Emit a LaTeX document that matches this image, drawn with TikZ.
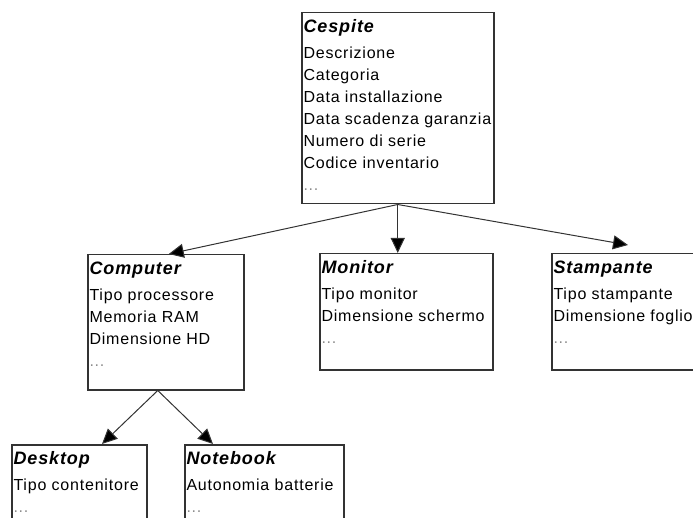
\documentclass[tikz,border=0pt]{standalone}
\usepackage{fontspec}
\setmainfont{Liberation Sans}[LetterSpace=5]
\usetikzlibrary{arrows.meta}

\definecolor{linegray}{gray}{0.2}
\definecolor{dotgray}{gray}{0.55}

\newcommand{\more}{{\color{dotgray}...}}
\newcommand{\classname}[1]{{\fontsize{18}{22}\selectfont\bfseries\itshape #1}}

\begin{document}
\begin{tikzpicture}[
		x=1pt,
		y=-1pt,
		line width=1pt,
		classbox/.style={draw=linegray, line width=1.5pt, anchor=north west, inner sep=0pt},
		attrs/.style={anchor=north west, align=left, inner xsep=2pt, inner ysep=7pt, font={\fontsize{16}{22}\selectfont}, text=black},
		link/.style={draw=linegray, line width=1pt, -{Triangle[length=15pt, width=14pt, fill=black]}}
		]
	
	\clip (0, 0) rectangle (693, 518);
	
	% Cespite
	\node[classbox, minimum width=192pt, minimum height=191pt,
		label={[attrs]north west:{\classname{Cespite}\\[4pt] Descrizione\\ Categoria\\ Data installazione\\ Data scadenza garanzia\\ Numero di serie\\ Codice inventario\\ \more}}] (cespite) at (301, 12) {};
	
	% Computer
	\node[classbox, minimum width=156pt, minimum height=135pt,
		label={[attrs]north west:{\classname{Computer}\\[4pt] Tipo processore\\ Memoria RAM\\ Dimensione HD\\ \more}}] (computer) at (87, 254) {};
	
	% Monitor
	\node[classbox, minimum width=173pt, minimum height=116pt,
		label={[attrs]north west:{\classname{Monitor}\\[4pt] Tipo monitor\\ Dimensione schermo\\ \more}}] (monitor) at (319, 253) {};
	
	% Stampante
	\node[classbox, minimum width=170pt, minimum height=116pt,
		label={[attrs]north west:{\classname{Stampante}\\[4pt] Tipo stampante\\ Dimensione foglio\\ \more}}] (stampante) at (551, 253) {};
	
	% Desktop
	\node[classbox, minimum width=135pt, minimum height=100pt,
		label={[attrs]north west:{\classname{Desktop}\\[4pt] Tipo contenitore\\ \more}}] (desktop) at (11, 444) {};
	
	% Notebook
	\node[classbox, minimum width=159pt, minimum height=100pt,
		label={[attrs]north west:{\classname{Notebook}\\[4pt] Autonomia batterie\\ \more}}] (notebook) at (184, 444) {};
	
	% Generalizations
	\draw[link] (cespite.south) -- ([xshift=3pt]computer.north);
	\draw[link] (cespite.south) -- (cespite.south |- monitor.north);
	\draw[link] (cespite.south) -- ([xshift=77pt, yshift=8pt]stampante.north west);
	\draw[link] ([xshift=-8pt]computer.south) -- ([xshift=91pt]desktop.north west);
	\draw[link] ([xshift=-8pt]computer.south) -- ([xshift=29pt]notebook.north west);
	
\end{tikzpicture}
\end{document}
